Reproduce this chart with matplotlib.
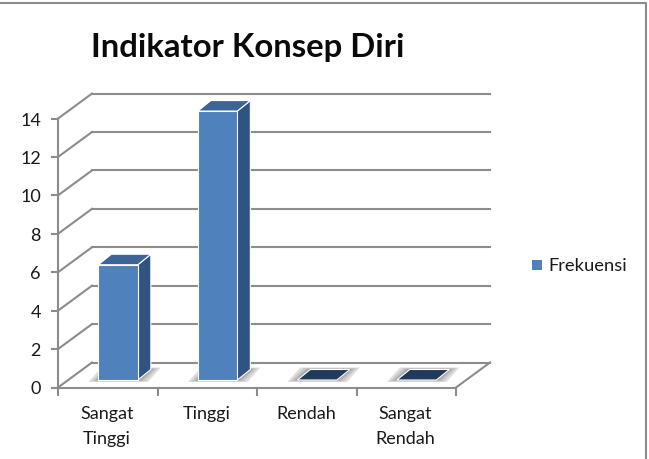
import matplotlib
matplotlib.use("Agg")
import matplotlib.pyplot as plt
from matplotlib.patches import Polygon, Rectangle
import numpy as np

categories = ["Sangat\nTinggi", "Tinggi", "Rendah", "Sangat\nRendah"]
frekuensi = [6, 14, 0, 0]
yticks = [0, 2, 4, 6, 8, 10, 12, 14]

W, H = 649, 460
CAT_PX, UNIT_PX = 99.5, 19.21
X0_PX, Y0_PX = 58, 388.5

# 3d look: everything is sheared by this much going back
DX, DY = 34 / CAT_PX, 25 / UNIT_PX
BAR_W = 39.5 / CAT_PX
BAR_DX, BAR_DY = 13 / CAT_PX, 10.5 / UNIT_PX
BAR_BASE = 7.5 / UNIT_PX
BAR_POS = 0.604
LABEL_POS = 0.49

FRONT = "#4f81bd"
SIDE = "#2f5482"
TOP = "#3c6496"
ZERO = "#1f3a5a"
GRID = "#8c8c8c"
TEXT = "#1a1a1a"

plt.rcParams['font.family'] = ['Lato', 'DejaVu Sans']

fig = plt.figure(figsize=(W / 100, H / 100), dpi=100)
ax = fig.add_axes([0, 0, 1, 1])
ax.set_xlim(-X0_PX / CAT_PX, (W - X0_PX) / CAT_PX)
ax.set_ylim(-(H - Y0_PX) / UNIT_PX, Y0_PX / UNIT_PX)
ax.axis("off")

n = len(categories)

# walls and floor
for v in yticks:
    ax.plot([DX, n + DX], [v + DY, v + DY], color=GRID, lw=1.5, zorder=1)
    ax.plot([0, DX], [v, v + DY], color=GRID, lw=1.5, zorder=1)
ax.plot([0, n], [0, 0], color=GRID, lw=1.5, zorder=2)
ax.plot([n, n + DX], [0, DY], color=GRID, lw=1.5, zorder=2)
ax.plot([0, 0], [0, yticks[-1]], color=GRID, lw=1.5, zorder=2)

# tick marks
tick_x = 6 / CAT_PX
tick_y = 7 / UNIT_PX
for v in yticks:
    ax.plot([-tick_x, 0], [v, v], color=GRID, lw=1.5, zorder=2)
    ax.text(-17 / CAT_PX, v - 1 / UNIT_PX, str(v), ha="right", va="center", fontsize=13, color=TEXT)
for i in range(n + 1):
    ax.plot([i, i], [0, -tick_y], color=GRID, lw=1.5, zorder=2)
for i, c in enumerate(categories):
    lines = c.split("\n")
    for k, line in enumerate(lines):
        ax.text(i + LABEL_POS, -(25.5 + 25 * k) / UNIT_PX, line, ha="center", va="center",
                fontsize=13, color=TEXT)


def draw_bar(i, v):
    x0 = i + BAR_POS - BAR_W / 2
    x1 = x0 + BAR_W
    base = BAR_BASE
    top = base + v
    # soft shadow on the floor, built from nested outlines
    for grow, col in [(1.0, "#dedede"), (0.7, "#c8c8c8"), (0.4, "#b0b0b0"), (0.15, "#9a9a9a")]:
        gx, gy = grow * 10 / CAT_PX, grow * 2 / UNIT_PX
        shadow = [(x0 - gx, base - gy), (x1 + gx, base - gy),
                  (x1 + BAR_DX + gx, base + BAR_DY + gy), (x0 + BAR_DX - gx, base + BAR_DY + gy)]
        ax.add_patch(Polygon(shadow, fc=col, ec="none", zorder=3))
    if v == 0:
        ax.add_patch(Polygon([(x0, base), (x1, base), (x1 + BAR_DX, base + BAR_DY), (x0 + BAR_DX, base + BAR_DY)],
                             fc=ZERO, ec="white", lw=0.8, zorder=4))
        return
    ax.add_patch(Polygon([(x1, base), (x1 + BAR_DX, base + BAR_DY), (x1 + BAR_DX, top + BAR_DY), (x1, top)],
                         fc=SIDE, ec="white", lw=0.8, zorder=4))
    ax.add_patch(Polygon([(x0, top), (x1, top), (x1 + BAR_DX, top + BAR_DY), (x0 + BAR_DX, top + BAR_DY)],
                         fc=TOP, ec="white", lw=0.8, zorder=4))
    ax.add_patch(Rectangle((x0, base), BAR_W, v, fc=FRONT, ec="white", lw=0.8, zorder=5))


for i, v in enumerate(frekuensi):
    draw_bar(i, v)


def px(x, y):
    return (x - X0_PX) / CAT_PX, (Y0_PX - y) / UNIT_PX


# title and legend sit in pixel positions
ax.text(*px(91, 47), "Indikator Konsep Diri", fontsize=23.7, fontweight="bold", color="#0a0a0a", ha="left", va="center")
lx, ly = px(532, 271)
ax.add_patch(Rectangle((lx, ly), 10 / CAT_PX, 10 / UNIT_PX, fc=FRONT, ec="none"))
ax.text(*px(548, 266), "Frekuensi", fontsize=13.2, color=TEXT, ha="left", va="center")

# chart frame
ax.plot(*zip(px(0, 4), px(645.5, 4), px(645.5, 460)), color="#8c8c8c", lw=1.5)

fig.savefig("out.png", dpi=100)
